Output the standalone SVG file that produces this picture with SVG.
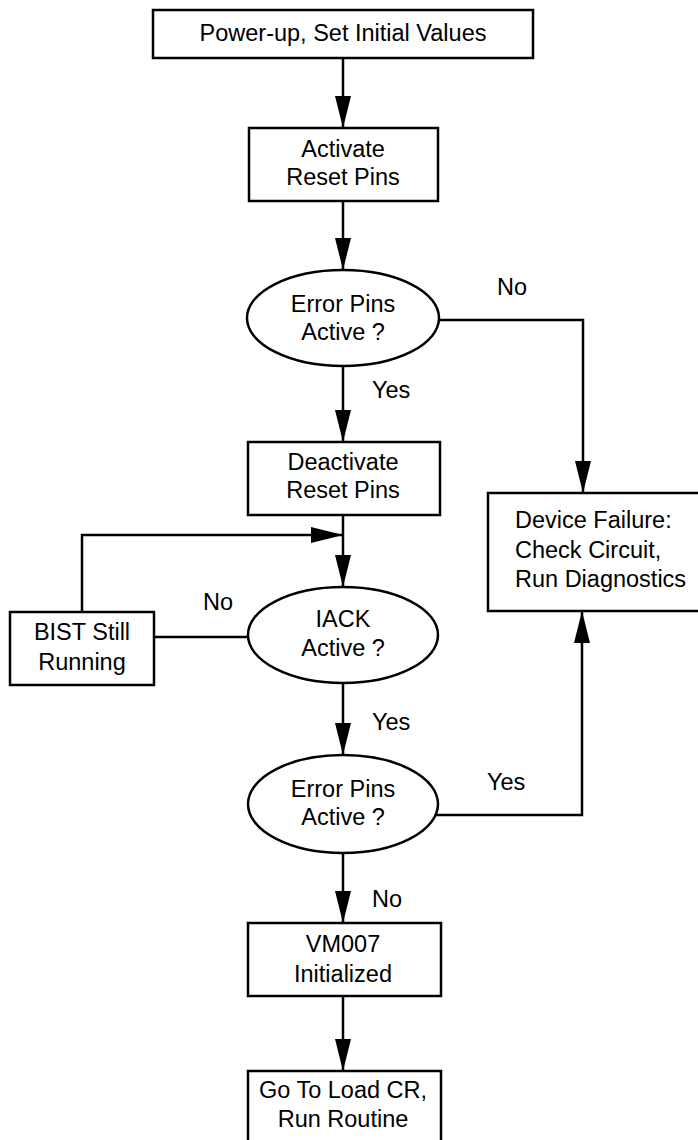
<svg xmlns="http://www.w3.org/2000/svg" width="698" height="1140" viewBox="0 0 698 1140">
  <style>
    .box { fill: #ffffff; stroke: #000000; stroke-width: 2.5; }
    .t { font-family: "Liberation Sans", Arial, sans-serif; font-size: 23.5px; fill: #000000; }
    .c { text-anchor: middle; }
    .conn { fill: none; stroke: #000000; stroke-width: 2.5; }
  </style>
  <defs>
    <marker id="ah" viewBox="0 0 32 16" refX="32" refY="8" markerWidth="32" markerHeight="16" markerUnits="userSpaceOnUse" orient="auto">
      <path d="M0,0 L32,8 L0,16 z" fill="#000000"/>
    </marker>
  </defs>
  <rect x="0" y="0" width="698" height="1140" fill="#ffffff"/>

  <g id="connectors">
    <path class="conn" d="M343,58 V128" marker-end="url(#ah)"/>
    <path class="conn" d="M343,201 V270" marker-end="url(#ah)"/>
    <path class="conn" d="M343,366 V442" marker-end="url(#ah)"/>
    <path class="conn" d="M439,320 H583 V493" marker-end="url(#ah)"/>
    <path class="conn" d="M343,515 V587" marker-end="url(#ah)"/>
    <path class="conn" d="M248,637 H154"/>
    <path class="conn" d="M82,612 V535 H343" marker-end="url(#ah)"/>
    <path class="conn" d="M343,683 V755" marker-end="url(#ah)"/>
    <path class="conn" d="M436,815 H582 V611" marker-end="url(#ah)"/>
    <path class="conn" d="M343,853 V923" marker-end="url(#ah)"/>
    <path class="conn" d="M343,996 V1071" marker-end="url(#ah)"/>
    <text class="t" x="497" y="295">No</text>
    <text class="t" x="372" y="398">Yes</text>
    <text class="t" x="203" y="610">No</text>
    <text class="t" x="372" y="730">Yes</text>
    <text class="t" x="487" y="790">Yes</text>
    <text class="t" x="372" y="907">No</text>
  </g>

  <g id="n_power">
    <rect class="box" x="153" y="10" width="380" height="48"/>
    <text class="t c" x="343" y="41">Power-up, Set Initial Values</text>
  </g>
  <g id="n_activate">
    <rect class="box" x="249" y="128" width="189" height="73"/>
    <text class="t c" x="343" y="157">Activate</text>
    <text class="t c" x="343" y="185">Reset Pins</text>
  </g>
  <g id="n_error1">
    <ellipse class="box" cx="343" cy="318" rx="96" ry="48"/>
    <text class="t c" x="343" y="312">Error Pins</text>
    <text class="t c" x="343" y="340">Active ?</text>
  </g>
  <g id="n_deactivate">
    <rect class="box" x="248" y="442" width="192" height="73"/>
    <text class="t c" x="343" y="470">Deactivate</text>
    <text class="t c" x="343" y="498">Reset Pins</text>
  </g>
  <g id="n_failure">
    <rect class="box" x="488" y="493" width="214" height="118"/>
    <text class="t" x="515" y="528">Device Failure:</text>
    <text class="t" x="515" y="558">Check Circuit,</text>
    <text class="t" x="515" y="587">Run Diagnostics</text>
  </g>
  <g id="n_bist">
    <rect class="box" x="10" y="612" width="144" height="73"/>
    <text class="t c" x="82" y="640">BIST Still</text>
    <text class="t c" x="82" y="670">Running</text>
  </g>
  <g id="n_iack">
    <ellipse class="box" cx="343" cy="635" rx="95" ry="48"/>
    <text class="t c" x="343" y="627">IACK</text>
    <text class="t c" x="343" y="656">Active ?</text>
  </g>
  <g id="n_error2">
    <ellipse class="box" cx="343" cy="804" rx="95" ry="49"/>
    <text class="t c" x="343" y="797">Error Pins</text>
    <text class="t c" x="343" y="825">Active ?</text>
  </g>
  <g id="n_vm007">
    <rect class="box" x="248" y="923" width="193" height="73"/>
    <text class="t c" x="343" y="952">VM007</text>
    <text class="t c" x="343" y="982">Initialized</text>
  </g>
  <g id="n_goto">
    <rect class="box" x="248" y="1071" width="193" height="80"/>
    <text class="t c" x="343" y="1098">Go To Load CR,</text>
    <text class="t c" x="343" y="1127">Run Routine</text>
  </g>
</svg>
